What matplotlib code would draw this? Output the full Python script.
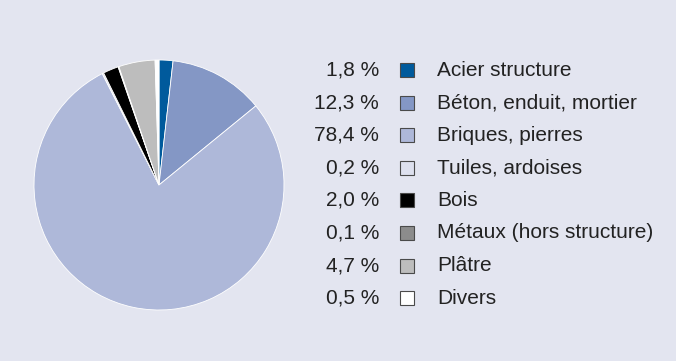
import matplotlib.pyplot as plt
from matplotlib.patches import Rectangle

plt.rcParams['font.family'] = ['Liberation Sans', 'DejaVu Sans']

# share of each material (%)
labels = ['Acier structure', 'Béton, enduit, mortier', 'Briques, pierres',
          'Tuiles, ardoises', 'Bois', 'Métaux (hors structure)', 'Plâtre', 'Divers']
values = [1.8, 12.3, 78.4, 0.2, 2.0, 0.1, 4.7, 0.5]
pct_labels = ['1,8 %', '12,3 %', '78,4 %', '0,2 %', '2,0 %', '0,1 %', '4,7 %', '0,5 %']
colors = ['#005a9c', '#8497c5', '#aeb8d9', '#dde0ee', '#000000', '#8c8c8c', '#bdbdbd', '#ffffff']

bg = '#e3e5f0'
W, H = 676, 361
fig = plt.figure(figsize=(W / 100, H / 100), dpi=100, facecolor=bg)

# pie: centre (159,185), radius 125 px
ax = fig.add_axes([(159 - 125) / W, 1 - (185 + 125) / H, 250 / W, 250 / H])
ax.set_facecolor(bg)
ax.pie(values, colors=colors, startangle=90, counterclock=False,
       wedgeprops=dict(edgecolor='white', linewidth=0.6))
ax.set_xlim(-1, 1)
ax.set_ylim(-1, 1)
ax.set_aspect('equal')
ax.axis('off')

# legend drawn in pixel coordinates
lg = fig.add_axes([0, 0, 1, 1])
lg.set_xlim(0, W)
lg.set_ylim(H, 0)
lg.axis('off')
y0, dy = 70, 32.6
for i, (pct, lab, c) in enumerate(zip(pct_labels, labels, colors)):
    y = y0 + i * dy
    lg.text(379, y, pct, ha='right', va='center', fontsize=15, color='#222222')
    lg.add_patch(Rectangle((400, y - 7), 14, 14, facecolor=c, edgecolor='#4a4a4a', linewidth=0.8))
    lg.text(437, y, lab, ha='left', va='center', fontsize=15, color='#222222')

fig.savefig('out.png', dpi=100, facecolor=bg)
